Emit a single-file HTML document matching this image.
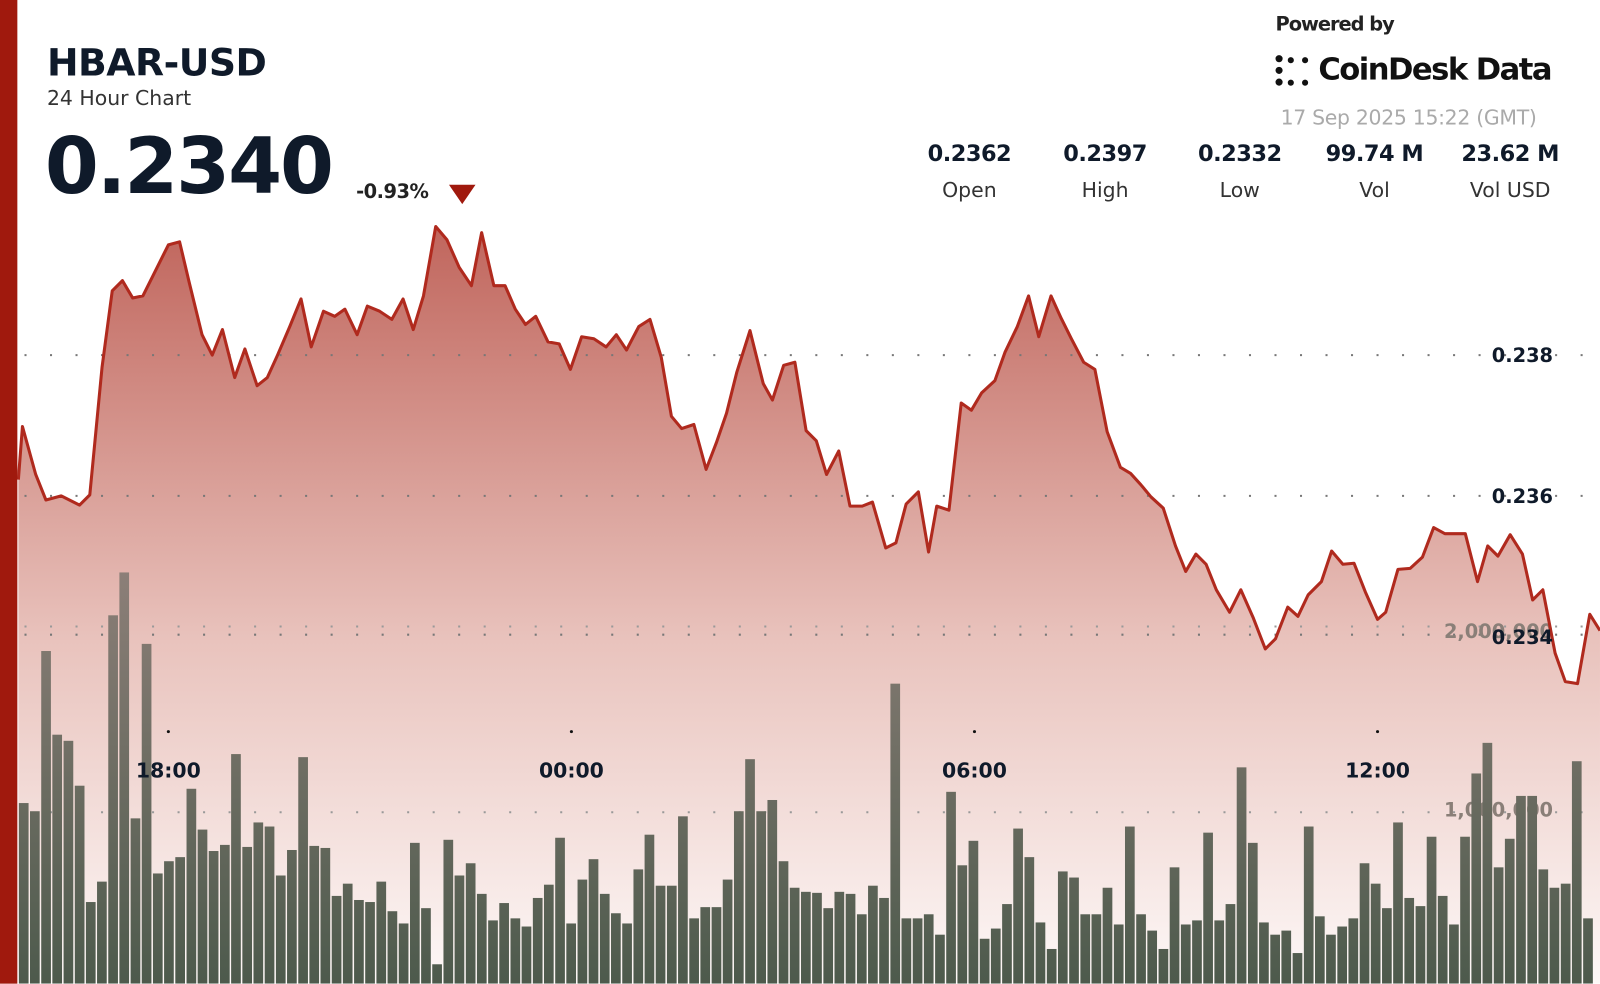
<!DOCTYPE html>
<html><head><meta charset="utf-8"><style>
body{margin:0;width:1600px;height:983px;overflow:hidden;background:#fff;font-family:"DejaVu Sans",sans-serif;}
#w{position:absolute;left:0;top:0;width:1568px;height:964px;transform:scale(1.0204);transform-origin:0 0}
svg{position:absolute;left:0;top:0}
.t{position:absolute;color:#0f1a2a;white-space:nowrap}
</style></head><body>
<div id="w">
<svg id="s" width="1568" height="964"></svg>
<div style="position:absolute;left:0;top:0;width:17px;height:964px;background:#a0190d"></div>
<div class="t" style="left:46px;top:40px;font-size:37px;font-weight:bold;letter-spacing:-0.5px">HBAR-USD</div>
<div class="t" style="left:46px;top:84px;font-size:20px;color:#333">24 Hour Chart</div>
<div class="t" style="left:44px;top:118px;font-size:76px;font-weight:bold;letter-spacing:-2px">0.2340</div>
<div class="t" style="left:349px;top:177px;font-size:19px;font-weight:bold;color:#222;letter-spacing:-0.5px">-0.93%</div>
<div style="position:absolute;left:440px;top:181px;width:0;height:0;border-left:13px solid transparent;border-right:13px solid transparent;border-top:19px solid #a0190d"></div>
<div class="t" style="left:1250px;top:13px;font-size:19px;font-weight:bold;color:#222;letter-spacing:-1px">Powered by</div>
<div class="t" style="left:1292px;top:51px;font-size:30px;font-weight:bold;color:#111;letter-spacing:-1.5px">CoinDesk Data</div>
<div style="position:absolute;left:1250px;top:54px;width:10px;height:30px;border-left:7px dotted #111"></div>
<div style="position:absolute;left:1262px;top:56px;width:20px;height:28px;border-top:6px dotted #111;border-bottom:6px dotted #111;box-sizing:border-box"></div>
<div class="t" style="left:1255px;top:103px;font-size:20px;color:#aaa;letter-spacing:-0.3px">17 Sep 2025 15:22 (GMT)</div>
<div id="stats"></div>
</div>
<script>
var st=[["0.2362","Open",950],["0.2397","High",1083],["0.2332","Low",1215],["99.74 M","Vol",1347],["23.62 M","Vol USD",1480]];
var h="";st.forEach(function(a){h+='<div class="t" style="left:'+(a[2]-80)+'px;width:160px;text-align:center;top:139px;font-size:22px;font-weight:bold;letter-spacing:-0.5px">'+a[0]+'</div><div class="t" style="left:'+(a[2]-80)+'px;width:160px;text-align:center;top:174px;font-size:20px;color:#333">'+a[1]+'</div>';});
document.getElementById("stats").innerHTML=h;
var P=[18,470,22,418,35,465,45,490,60,486,78,495,88,485,100,360,110,285,120,275,130,292,140,290,150,270,165,240,176,237,185,275,198,328,208,348,218,323,230,370,240,342,252,378,262,370,272,348,284,320,295,293,305,340,317,305,328,310,338,303,350,328,360,300,372,305,384,313,395,293,405,323,415,290,427,222,438,235,450,262,462,280,472,228,484,280,495,280,505,303,515,318,525,310,537,335,548,337,559,362,570,330,582,332,594,340,604,328,614,343,626,320,637,313,648,350,658,408,668,420,680,416,692,460,702,434,712,405,722,365,735,324,748,376,757,392,768,358,779,355,790,422,800,432,810,465,822,442,833,496,845,496,855,492,868,537,878,532,888,494,900,482,910,541,918,496,930,500,942,395,952,402,962,385,975,373,985,345,997,320,1008,290,1018,330,1030,290,1040,312,1050,332,1062,355,1073,362,1085,423,1098,458,1108,464,1118,475,1128,487,1140,498,1152,535,1162,560,1172,543,1182,553,1192,578,1205,600,1216,578,1228,605,1240,636,1250,626,1262,595,1272,604,1282,583,1295,570,1305,540,1316,553,1327,552,1338,580,1350,607,1358,600,1370,558,1382,557,1394,546,1405,517,1416,523,1436,523,1448,570,1458,535,1468,545,1480,524,1492,543,1502,588,1512,578,1524,640,1534,668,1546,670,1558,602,1568,618];
var B=[787,795,638,720,726,770,884,864,603,561,802,631,856,844,840,773,813,834,828,739,830,806,810,858,833,742,829,831,878,866,882,884,864,893,905,826,890,945,823,858,846,876,902,885,900,908,880,867,821,905,862,842,876,895,905,852,818,868,868,800,900,889,889,862,795,744,795,784,844,870,874,875,890,874,876,896,868,880,670,900,900,896,916,776,848,824,920,910,886,812,840,904,930,854,860,896,896,870,906,810,896,912,930,850,906,902,816,902,886,752,826,904,916,912,934,810,898,916,908,900,846,866,890,806,880,888,820,878,906,820,758,728,850,822,780,780,852,870,866,746,900];
var pts="";for(var i=0;i<P.length;i+=2)pts+=P[i]+","+P[i+1]+" ";
var s='<defs><linearGradient id="a" x1="0" y1="220" x2="0" y2="964" gradientUnits="userSpaceOnUse"><stop offset="0" stop-color="#c0655c"/><stop offset="0.55" stop-color="#e9c3bd"/><stop offset="1" stop-color="#fdf8f7"/></linearGradient><linearGradient id="b" x1="0" y1="560" x2="0" y2="964" gradientUnits="userSpaceOnUse"><stop offset="0" stop-color="#8c7f78"/><stop offset="1" stop-color="#4d5a4c"/></linearGradient></defs>';
s+='<polygon fill="url(#a)" points="18,964 '+pts+'1568,964"/>';
[348,486,622].forEach(function(y){s+='<line x1="24" x2="1568" y1="'+y+'" y2="'+y+'" stroke="#777" stroke-width="2" stroke-dasharray="2,23"/>';});
[614,796].forEach(function(y){s+='<line x1="24" x2="1568" y1="'+y+'" y2="'+y+'" stroke="#999" stroke-width="2" stroke-dasharray="2,23"/>';});
s+='<text x="1522" y="625" text-anchor="end" font-size="19" font-weight="bold" fill="#8a7f78" font-family="DejaVu Sans">2,000,000</text>';
s+='<text x="1522" y="800" text-anchor="end" font-size="19" font-weight="bold" fill="#8a7f78" font-family="DejaVu Sans">1,000,000</text>';
for(var j=0;j<B.length;j++){var x=18+j*10.95;s+='<rect x="'+(x+0.5).toFixed(1)+'" y="'+B[j]+'" width="9.5" height="'+(964-B[j])+'" fill="url(#b)"/>';}
s+='<polyline fill="none" stroke="#b02a1e" stroke-width="3" stroke-linejoin="round" points="'+pts+'"/>';
[["0.238",355],["0.236",493],["0.234",631]].forEach(function(a){s+='<text x="1522" y="'+a[1]+'" text-anchor="end" font-size="19" font-weight="bold" fill="#0f1a2a" font-family="DejaVu Sans">'+a[0]+'</text>';});
[["18:00",165],["00:00",560],["06:00",955],["12:00",1350]].forEach(function(a){s+='<circle cx="'+a[1]+'" cy="717" r="1.5" fill="#111"/><text x="'+a[1]+'" y="762" text-anchor="middle" font-size="20" font-weight="bold" fill="#0f1a2a" font-family="DejaVu Sans">'+a[0]+'</text>';});
document.getElementById("s").innerHTML=s;
</script>
</body></html>
